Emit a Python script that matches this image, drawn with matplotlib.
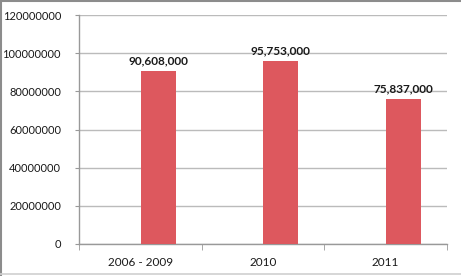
import numpy as np
import matplotlib
matplotlib.use("Agg")
import matplotlib.pyplot as plt
from matplotlib.lines import Line2D

categories = ["2006 - 2009", "2010", "2011"]
values = [90608000, 95753000, 75837000]
labels = ["90,608,000", "95,753,000", "75,837,000"]
y_ticks = [0, 20000000, 40000000, 60000000, 80000000, 100000000, 120000000]

W, H = 461, 276
fig = plt.figure(figsize=(W / 100, H / 100), dpi=100)
plt.rcParams['font.family'] = ['Lato', 'DejaVu Sans']

# plot area in pixels: x 79..447, y 15..244
ax = fig.add_axes([79 / W, 1 - 244 / H, (447 - 79) / W, (244 - 15) / H])

x = np.arange(len(categories))
# bars sit right of category centre (empty second series slot in the original)
ax.bar(x + 0.145, values, width=0.285, color='#DD585E', zorder=3)

for xi, v, lab in zip(x, values, labels):
    ax.text(xi + 0.145, v + 2500000, lab, ha='center', va='bottom',
            fontsize=8.5, fontweight='bold', color='#1a1a1a')

ax.set_xlim(-0.5, len(categories) - 0.5)
ax.set_ylim(0, 120000000)
ax.set_yticks(y_ticks)
ax.set_yticklabels([str(t) for t in y_ticks], fontsize=8, color='#1a1a1a')
ax.yaxis.grid(True, color='#BBBBBB', linewidth=1, zorder=0)

ax.set_xticks(x)
ax.set_xticklabels(categories, fontsize=8.5, color='#1a1a1a')
ax.tick_params(axis='x', length=0, pad=9)
ax.set_xticks(np.arange(len(categories) + 1) - 0.5, minor=True)
ax.tick_params(axis='x', which='minor', length=4, color='#999999', direction='out')
ax.tick_params(axis='y', length=3, color='#999999', pad=10)

for s in ['top', 'right']:
    ax.spines[s].set_visible(False)
for s in ['left', 'bottom']:
    ax.spines[s].set_color('#999999')
    ax.spines[s].set_linewidth(1)

# outer chart frame
fig.add_artist(Line2D([0, 1], [1 - 0.5 / H, 1 - 0.5 / H], transform=fig.transFigure, color='#8C8C8C', lw=1.5))
fig.add_artist(Line2D([0.5 / W, 0.5 / W], [0, 1], transform=fig.transFigure, color='#8C8C8C', lw=1.5))
fig.add_artist(Line2D([0, 1], [2.5 / H, 2.5 / H], transform=fig.transFigure, color='#D0D0D0', lw=1.2))

fig.savefig("out.png", dpi=100)
